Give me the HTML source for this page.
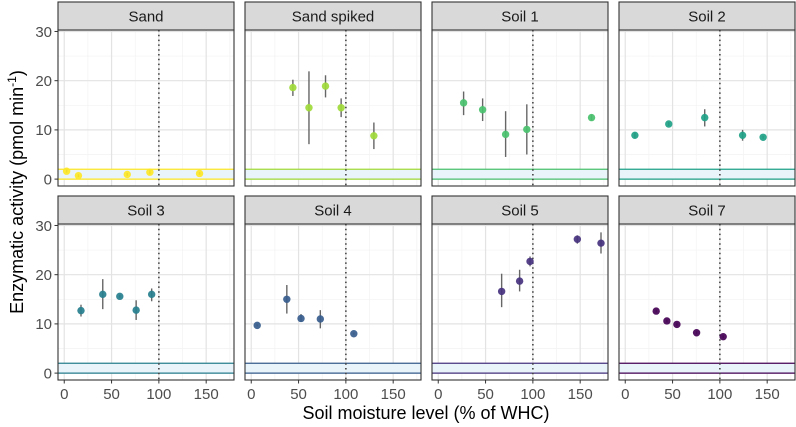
<!DOCTYPE html>
<html><head><meta charset="utf-8"><style>
html,body{margin:0;padding:0;background:#fff;}
svg{display:block;font-family:"Liberation Sans",sans-serif;}
</style></head><body>
<svg id="chart" width="796" height="427" viewBox="0 0 796 427" xmlns="http://www.w3.org/2000/svg">
<text transform="translate(23,192) rotate(-90)" text-anchor="middle" font-size="18" fill="#000">Enzymatic activity (pmol min<tspan font-size="12" dy="-7">-1</tspan><tspan dy="7">)</tspan></text>
<text x="426" y="419" text-anchor="middle" font-size="18" fill="#000">Soil moisture level (% of WHC)</text>
</svg>
<script>
const panelNames = ["Sand","Sand spiked","Soil 1","Soil 2","Soil 3","Soil 4","Soil 5","Soil 7"];
const panelColors = ["#fde725","#a0da39","#4ac16d","#1fa187","#277f8e","#365c8d","#46327e","#440154"];
const xTicks = [0,50,100,150];
const yTicks = [0,10,20,30];
const sandX = [2.5,15,66.6,90.5,143];
const sandY = [1.6,0.7,0.95,1.4,1.15];
const sandLo = [1.3,0.4,0.65,1.0,0.85];
const sandHi = [1.9,1.0,1.25,1.8,1.45];
const spikedX = [44,61,78.5,95,129.6];
const spikedY = [18.6,14.5,18.9,14.5,8.8];
const spikedLo = [16.9,7.1,16.6,12.6,6.1];
const spikedHi = [20.2,21.9,21.1,16.4,11.5];
const soil1X = [26.8,46.9,71.2,93.6,162];
const soil1Y = [15.5,14.1,9.1,10.1,12.5];
const soil1Lo = [13,11.8,4.5,5.0,11.9];
const soil1Hi = [17.8,16.4,13.8,15.2,13.1];
const soil2X = [10.2,46,84,124,145.7];
const soil2Y = [8.9,11.2,12.5,8.9,8.5];
const soil2Lo = [8.3,10.8,10.7,7.8,8.2];
const soil2Hi = [9.5,11.6,14.2,10.0,8.8];
const soil3X = [17.7,40.7,58.7,76,92.4];
const soil3Y = [12.7,16.0,15.6,12.8,16.0];
const soil3Lo = [11.5,13,15.3,10.8,14.6];
const soil3Hi = [13.9,19.1,15.9,14.8,17.2];
const soil4X = [6.3,37.6,52.6,73,108.4];
const soil4Y = [9.7,15,11.1,11.0,8.0];
const soil4Lo = [9.5,12.1,10.4,9.1,7.8];
const soil4Hi = [9.9,17.9,12,12.8,8.2];
const soil5X = [67,86,97,147,172];
const soil5Y = [16.6,18.7,22.7,27.2,26.4];
const soil5Lo = [13.4,16.6,21.7,26.3,24.3];
const soil5Hi = [20.2,21,23.7,28,28.6];
const soil7X = [32.7,44,54.6,75.4,103.5];
const soil7Y = [12.6,10.6,9.9,8.2,7.4];
const soil7Lo = [12.3,10.3,9.6,7.9,7.1];
const soil7Hi = [12.9,10.9,10.2,8.5,7.7];
const bandLow = 0, bandHigh = 2, refX = 100;

const series = [[sandX,sandY,sandLo,sandHi],[spikedX,spikedY,spikedLo,spikedHi],[soil1X,soil1Y,soil1Lo,soil1Hi],[soil2X,soil2Y,soil2Lo,soil2Hi],
  [soil3X,soil3Y,soil3Lo,soil3Hi],[soil4X,soil4Y,soil4Lo,soil4Hi],[soil5X,soil5Y,soil5Lo,soil5Hi],[soil7X,soil7Y,soil7Lo,soil7Hi]];

const svg = document.getElementById('chart');
const NS = "http://www.w3.org/2000/svg";
function mk(tag, attrs, parent){const e=document.createElementNS(NS,tag);for(const k in attrs)e.setAttribute(k,attrs[k]);(parent||svg).appendChild(e);return e;}
const colL=[58,245,432,619], W=176, rowT=[30,224], H=156;
const xMin=-6.6, xMax=179.4, yMin=-1.4, yMax=30.3;

for(let p=0;p<8;p++){
  const r=Math.floor(p/4), c=p%4, L=colL[c], T=rowT[r];
  const xs=v=>L+(v-xMin)/(xMax-xMin)*W;
  const ys=v=>T+H-(v-yMin)/(yMax-yMin)*H;
  const g=mk('g',{});
  
  
  mk('rect',{x:L,y:T,width:W,height:H,fill:'#fff'},g);
  for(let v=5;v<30;v+=10){mk('line',{x1:L,x2:L+W,y1:ys(v),y2:ys(v),stroke:'#f2f2f2','stroke-width':0.7},g);}
  for(let v=25;v<180;v+=50){mk('line',{x1:xs(v),x2:xs(v),y1:T,y2:T+H,stroke:'#f2f2f2','stroke-width':0.7},g);}
  yTicks.forEach(v=>mk('line',{x1:L,x2:L+W,y1:ys(v),y2:ys(v),stroke:'#e3e3e3','stroke-width':1.2},g));
  xTicks.forEach(v=>mk('line',{x1:xs(v),x2:xs(v),y1:T,y2:T+H,stroke:'#e3e3e3','stroke-width':1.2},g));
  const band=mk('rect',{x:L,y:ys(bandHigh),width:W,height:ys(bandLow)-ys(bandHigh),fill:'#e9f3fa'},g);
  
  
  [bandLow,bandHigh].forEach(v=>mk('line',{x1:L,x2:L+W,y1:ys(v),y2:ys(v),stroke:panelColors[p],'stroke-width':1.2},g));
  const ref=mk('line',{x1:xs(refX),x2:xs(refX),y1:T,y2:T+H,stroke:'#444','stroke-width':1.6,'stroke-dasharray':'1.5 3.3'},g);
  
  
  const [X,Y,LO,HI]=series[p];
  for(let i=0;i<X.length;i++){
    const eb=mk('line',{x1:xs(X[i]),x2:xs(X[i]),y1:ys(LO[i]),y2:ys(HI[i]),stroke:'#666','stroke-width':1.4},g);
    
    
    const pt=mk('circle',{cx:xs(X[i]),cy:ys(Y[i]),r:3.7,fill:panelColors[p],'fill-opacity':0.92},g);
    
    
  }
  mk('rect',{x:L,y:T,width:W,height:H,fill:'none',stroke:'#333','stroke-width':1.1},g);
  const st=mk('rect',{x:L,y:T-28,width:W,height:28,fill:'#d9d9d9',stroke:'#333','stroke-width':1.1},g);
  
  
  const tt=mk('text',{x:L+W/2,y:T-8.5,'text-anchor':'middle','font-size':15,fill:'#1a1a1a'},g);
  tt.textContent=panelNames[p];
  
  
  if(c===0){
    yTicks.forEach(v=>{
      mk('line',{x1:L-3.5,x2:L,y1:ys(v),y2:ys(v),stroke:'#333'},g);
      const t=mk('text',{x:L-6,y:ys(v)+5.3,'text-anchor':'end','font-size':15,fill:'#4d4d4d'},g);
      t.textContent=v;
      
      
    });
  }
  if(r===1){
    xTicks.forEach(v=>{
      mk('line',{x1:xs(v),x2:xs(v),y1:T+H,y2:T+H+3.5,stroke:'#333'},g);
      const t=mk('text',{x:xs(v),y:T+H+19,'text-anchor':'middle','font-size':15,fill:'#4d4d4d'},g);
      t.textContent=v;
      
      
    });
  }
}
</script>
</body></html>
